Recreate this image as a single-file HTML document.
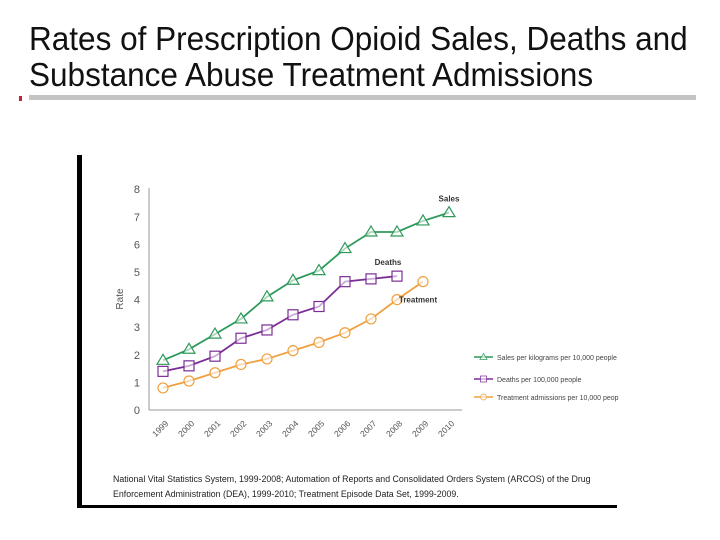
<!DOCTYPE html>
<html><head><meta charset="utf-8"><style>
body{margin:0;background:#fff;width:720px;height:540px;overflow:hidden;position:relative;font-family:"Liberation Sans",sans-serif}
.t{position:absolute;left:29px;font-size:33px;color:#111;white-space:nowrap;transform-origin:0 0;transform:scaleX(0.955);line-height:1}
</style></head><body>
<div class="t" style="top:22px">Rates of Prescription Opioid Sales, Deaths and</div>
<div class="t" style="top:58px">Substance Abuse Treatment Admissions</div>
<div style="position:absolute;left:29px;top:95px;width:667px;height:5px;background:#c4c4c4"></div>
<div style="position:absolute;left:19px;top:96px;width:3px;height:5px;background:#c8203c"></div>
<div style="position:absolute;left:77px;top:155px;width:5px;height:353px;background:#000"></div>
<div style="position:absolute;left:77px;top:505px;width:540px;height:3px;background:#000"></div>
<svg id="c" width="720" height="540" style="position:absolute;left:0;top:0" font-family="Liberation Sans, sans-serif"></svg>
<div style="position:absolute;left:113px;top:472px;font-size:8.8px;color:#222;line-height:15px;white-space:nowrap">National Vital Statistics System, 1999-2008; Automation of Reports and Consolidated Orders System (ARCOS) of the Drug<br>Enforcement Administration (DEA), 1999-2010; Treatment Episode Data Set, 1999-2009.</div>
<script>
const years=["1999","2000","2001","2002","2003","2004","2005","2006","2007","2008","2009","2010"];
const yTicks=[0,1,2,3,4,5,6,7,8];
const sales=[1.8,2.2,2.75,3.3,4.1,4.7,5.05,5.85,6.45,6.45,6.85,7.15];
const deaths=[1.4,1.6,1.95,2.6,2.9,3.45,3.75,4.65,4.75,4.85];
const treatment=[0.8,1.05,1.35,1.65,1.85,2.15,2.45,2.8,3.3,4.0,4.65];
const legendLabels=["Sales per kilograms per 10,000 people","Deaths per 100,000 people","Treatment admissions per 10,000 peop"];
const svg=document.getElementById('c');const NS='http://www.w3.org/2000/svg';
const X=i=>163+i*26, Y=v=>410-v*27.6;
function mk(t,a,p){const e=document.createElementNS(NS,t);for(const k in a)e.setAttribute(k,a[k]);(p||svg).appendChild(e);return e;}
let e=mk('line',{x1:149,y1:188,x2:149,y2:410,stroke:'#999','stroke-width':1});

e=mk('line',{x1:149,y1:410,x2:462,y2:410,stroke:'#999','stroke-width':1});

yTicks.forEach(v=>{const t=mk('text',{x:140,y:Y(v)+4,'font-size':11,fill:'#555','text-anchor':'end'});t.textContent=v;
});
years.forEach((y,i)=>{const t=mk('text',{x:X(i)+6,y:424,'font-size':8.5,fill:'#555','text-anchor':'end',transform:`rotate(-45 ${X(i)+6} 424)`});t.textContent=y;
});
e=mk('text',{x:123,y:299,'font-size':10,fill:'#555','text-anchor':'middle',transform:'rotate(-90 123 299)'});e.textContent='Rate';

function marker(kind,x,y,col,g){
 if(kind==='tri')return mk('polygon',{points:`${x},${y-6} ${x-6},${y+4} ${x+6},${y+4}`,fill:'#fff','fill-opacity':0.6,stroke:col,'stroke-width':1.2},g);
 if(kind==='sq')return mk('rect',{x:x-5,y:y-5,width:10,height:10,fill:'#fff','fill-opacity':0.6,stroke:col,'stroke-width':1.2},g);
 return mk('circle',{cx:x,cy:y,r:5,fill:'#fff','fill-opacity':0.6,stroke:col,'stroke-width':1.2},g);}
const series=[[sales,'#2e9a5a','tri','sales'],[deaths,'#7b2d95','sq','deaths'],[treatment,'#f0a040','circ','treatment']];
series.forEach(([d,c,k,n])=>{const g=mk('g',{});
 const p=mk('polyline',{points:d.map((v,i)=>X(i)+','+Y(v)).join(' '),fill:'none',stroke:c,'stroke-width':1.8},g);
 
 d.forEach((v,i)=>{const m=marker(k,X(i),Y(v),c,g);});});
[['Sales',X(11),Y(sales[11])-11,'sales-label'],['Deaths',X(9)-9,Y(deaths[9])-11,'deaths-label'],['Treatment',X(10)-5,Y(treatment[10])+21,'treatment-label']].forEach(([s,x,y,n])=>{
 const t=mk('text',{x:x,y:y,'font-size':8,'font-weight':'bold',fill:'#333','text-anchor':'middle'});t.textContent=s;
 });
const ly=[357,379,397];
series.forEach(([d,c,k,n],i)=>{const g=mk('g',{});
 mk('line',{x1:474,y1:ly[i],x2:493,y2:ly[i],stroke:c,'stroke-width':1.5},g);
 const m=marker(k,483.5,ly[i],c,g);m.setAttribute('transform',`translate(483.5 ${ly[i]}) scale(0.6) translate(-483.5 ${-ly[i]})`);
 const t=mk('text',{x:497,y:ly[i]+3,'font-size':7,fill:'#444'},g);t.textContent=legendLabels[i];});
</script>
</body></html>
